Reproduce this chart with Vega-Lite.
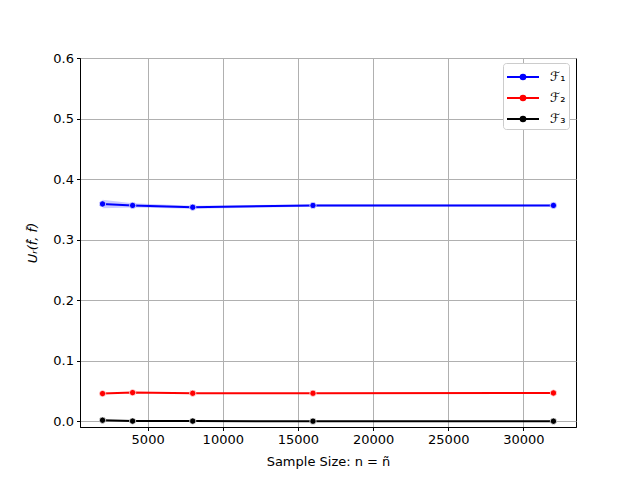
{
  "$schema": "https://vega.github.io/schema/vega-lite/v6.json",
  "width": 496,
  "height": 369,
  "autosize": {"type": "none"},
  "padding": {"left": 80, "top": 58, "right": 64, "bottom": 53},
  "background": "white",
  "config": {
    "font": "DejaVu Sans",
    "view": {"stroke": "black", "strokeWidth": 1},
    "axis": {
      "labelFont": "DejaVu Sans", "labelFontSize": 13, "labelColor": "black",
      "titleFont": "DejaVu Sans", "titleFontSize": 13, "titleColor": "black", "titleFontWeight": "normal",
      "gridColor": "#b0b0b0", "gridWidth": 1,
      "domainColor": "black", "tickColor": "black", "tickSize": 3.5, "labelPadding": 3
    }
  },
  "data": {"values": [
    {"s": "ℱ₁", "n": 2000, "v": 0.359, "lo": 0.352, "hi": 0.366},
    {"s": "ℱ₁", "n": 4000, "v": 0.3565, "lo": 0.353, "hi": 0.360},
    {"s": "ℱ₁", "n": 8000, "v": 0.3535, "lo": 0.351, "hi": 0.356},
    {"s": "ℱ₁", "n": 16000, "v": 0.3565, "lo": 0.3545, "hi": 0.3585},
    {"s": "ℱ₁", "n": 32000, "v": 0.3565, "lo": 0.355, "hi": 0.358},
    {"s": "ℱ₂", "n": 2000, "v": 0.0458, "lo": 0.0452, "hi": 0.0464},
    {"s": "ℱ₂", "n": 4000, "v": 0.0474, "lo": 0.0469, "hi": 0.0479},
    {"s": "ℱ₂", "n": 8000, "v": 0.0463, "lo": 0.0459, "hi": 0.0467},
    {"s": "ℱ₂", "n": 16000, "v": 0.0463, "lo": 0.0460, "hi": 0.0466},
    {"s": "ℱ₂", "n": 32000, "v": 0.0468, "lo": 0.0466, "hi": 0.0470},
    {"s": "ℱ₃", "n": 2000, "v": 0.0018, "lo": 0.0014, "hi": 0.0022},
    {"s": "ℱ₃", "n": 4000, "v": 0.0004, "lo": 0.0002, "hi": 0.0006},
    {"s": "ℱ₃", "n": 8000, "v": 0.0004, "lo": 0.0002, "hi": 0.0006},
    {"s": "ℱ₃", "n": 16000, "v": 0.0002, "lo": 0.0001, "hi": 0.0003},
    {"s": "ℱ₃", "n": 32000, "v": 0.0002, "lo": 0.0001, "hi": 0.0003}
  ]},
  "encoding": {
    "x": {"field": "n", "type": "quantitative",
      "scale": {"domain": [500, 33500], "nice": false, "zero": false},
      "axis": {"values": [5000, 10000, 15000, 20000, 25000, 30000], "format": "d", "title": "Sample Size: n = ñ", "titlePadding": 9}},
    "color": {"field": "s", "type": "nominal",
      "scale": {"domain": ["ℱ₁", "ℱ₂", "ℱ₃"], "range": ["blue", "red", "black"]},
      "legend": {
        "title": null, "orient": "none", "legendX": 423, "legendY": 5,
        "symbolType": "M-1,0H2.2M0.83,0A0.23,0.23 0 1,1 0.37,0A0.23,0.23 0 1,1 0.83,0Z",
        "symbolSize": 400, "symbolStrokeWidth": 2, "symbolOpacity": 1,
        "labelFontSize": 13, "labelFont": "DejaVu Sans", "labelColor": "black", "labelOffset": 22,
        "rowPadding": 3, "padding": 3, "strokeColor": "#cccccc", "fillColor": "white", "cornerRadius": 3
      }}
  },
  "layer": [
    {
      "mark": {"type": "area", "opacity": 0.2},
      "encoding": {
        "y": {"field": "lo", "type": "quantitative"},
        "y2": {"field": "hi"}
      }
    },
    {
      "mark": {"type": "line", "strokeWidth": 2},
      "encoding": {
        "y": {"field": "v", "type": "quantitative",
          "scale": {"domain": [-0.0094, 0.6], "nice": false, "zero": false},
          "axis": {"values": [0, 0.1, 0.2, 0.3, 0.4, 0.5, 0.6], "format": ".1f", "title": "Uᵣ(f̂, f̃)", "titleFontStyle": "italic", "titlePadding": 13}}
      }
    },
    {
      "mark": {"type": "point", "filled": true, "size": 40, "opacity": 1, "stroke": "white", "strokeWidth": 0.7},
      "encoding": {
        "y": {"field": "v", "type": "quantitative"}
      }
    }
  ]
}
